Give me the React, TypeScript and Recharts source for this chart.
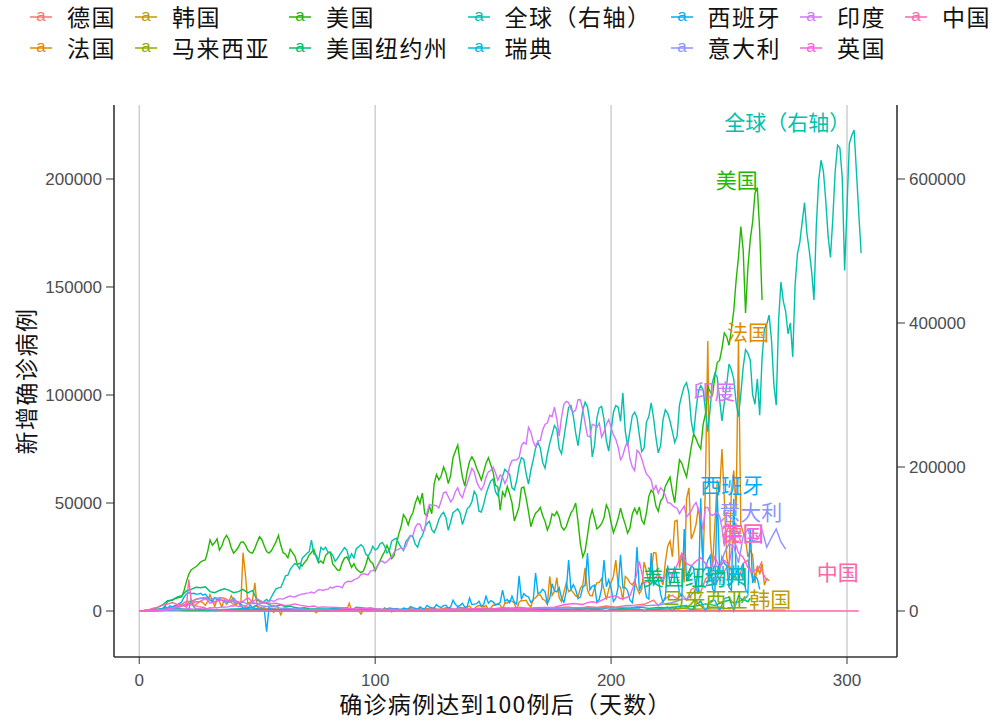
import React from "react";
import { LineChart, Line, XAxis, YAxis, CartesianGrid, ReferenceDot } from "recharts";

const FONT = '"Liberation Sans", "Noto Sans CJK SC", sans-serif';

const names = ["德国", "法国", "韩国", "马来西亚", "美国", "美国纽约州", "全球（右轴）", "瑞典", "西班牙", "意大利", "印度", "英国", "中国"];
const colors = ["#F8766D", "#E18A00", "#BE9C00", "#8CAB00", "#24B700", "#00BE70", "#00C1AB", "#00BBDA", "#00ACFC", "#8B93FF", "#D575FE", "#F962DD", "#FF65AC"];

// daily new cases in thousands; global series is read on the right axis
const globalStart = 3;
const globalK = [
  0.6, 0.9, 1.3, 1.8, 2.0, 2.1, 2.6, 2.8, 3.2, 3.9,
  3.7, 3.2, 3.9, 3.8, 3.7, 3.1, 2.6, 2.5, 2.1, 15.2,
  6.4, 2.7, 2.2, 2.1, 1.9, 1.8, 0.9, 1.0, 1.0, 0.8,
  1.1, 0.9, 1.2, 1.3, 1.8, 1.9, 2.4, 2.6, 3.0, 2.9,
  3.6, 3.9, 3.8, 4.5, 4.0, 4.5, 7.0, 7.9, 11.2, 10.5,
  13.9, 16.0, 13.2, 19.5, 25.6, 30.8, 32.2, 32.7, 40.3, 49.0,
  49.8, 58.0, 62.4, 66.2, 63.7, 58.4, 72.8, 76.4, 79.9, 82.1,
  98.3, 79.0, 77.4, 70.1, 88.2, 85.0, 88.6, 81.7, 82.1, 77.3,
  69.3, 72.8, 78.4, 83.2, 88.0, 84.7, 71.9, 79.5, 73.8, 86.5,
  89.3, 92.1, 88.7, 79.0, 76.2, 81.3, 90.0, 84.8, 86.5, 93.0,
  95.2, 90.1, 80.5, 83.8, 96.9, 99.5, 101.0, 93.8, 88.0, 84.0,
  96.5, 100.6, 105.0, 103.2, 92.8, 88.5, 99.7, 104.3, 115.4, 121.7,
  124.5, 113.0, 108.9, 116.7, 127.0, 133.6, 137.0, 129.5, 112.0, 124.0,
  136.5, 139.3, 141.8, 136.2, 120.0, 130.5, 141.9, 145.0, 151.8, 166.2,
  160.4, 138.7, 137.5, 148.2, 162.4, 172.3, 180.4, 183.6, 165.7, 160.2,
  173.3, 187.2, 196.7, 193.4, 189.7, 171.0, 168.2, 181.6, 201.3, 213.0,
  210.5, 190.5, 176.3, 195.5, 209.9, 226.2, 234.0, 226.4, 206.4, 198.2,
  217.7, 232.8, 245.3, 257.4, 252.5, 225.6, 218.4, 240.3, 262.1, 282.9,
  285.4, 270.5, 247.0, 229.5, 254.3, 279.1, 290.0, 283.6, 262.8, 214.0,
  230.3, 268.2, 282.0, 284.1, 266.0, 236.5, 222.1, 249.9, 276.0, 285.3,
  283.0, 263.4, 303.0, 250.1, 229.0, 250.2, 271.3, 276.0, 268.5, 244.0,
  221.5, 226.3, 262.4, 270.0, 289.1, 268.3, 241.0, 219.7, 229.7, 265.0,
  279.4, 274.6, 263.5, 249.0, 234.0, 243.1, 286.3, 300.2, 312.0, 316.9,
  302.4, 263.3, 245.8, 279.5, 304.8, 313.1, 307.5, 279.0, 249.2, 281.0,
  318.0, 330.2, 324.5, 293.9, 264.0, 289.6, 314.5, 343.1, 335.0, 322.2,
  289.7, 270.0, 301.4, 338.5, 362.9, 358.0, 348.3, 300.4, 287.2, 322.4,
  272.0, 351.0, 392.1, 398.4, 411.0, 376.5, 314.8, 286.0, 402.8, 457.0,
  430.5, 416.3, 385.0, 400.2, 353.0, 452.4, 496.0, 512.1, 540.2, 567.3,
  525.0, 500.4, 472.0, 432.0, 535.0, 598.2, 626.1, 611.0, 570.2, 520.6,
  491.0, 545.8, 610.7, 647.0, 643.0, 601.4, 473.0, 560.0, 649.2, 660.5,
  668.0, 610.3, 552.0, 497.0,
];

const usStart = 5;
const usK = [
  0.05, 0.08, 0.1, 0.3, 0.6, 1.2, 2.5,
  4.3, 4.8, 5.2, 5.6, 6.0, 6.3, 6.5, 9.5, 13.6, 17.0,
  19.0, 19.8, 20.5, 21.4, 22.7, 23.3, 23.6, 27.5, 32.9, 30.5,
  31.7, 33.4, 28.2, 30.1, 33.3, 35.0, 33.1, 29.3, 26.8, 28.0,
  29.5, 31.8, 32.0, 30.6, 28.2, 27.1, 26.8, 29.0, 31.9, 34.4,
  33.0, 30.1, 27.5, 26.8, 27.9, 30.0, 32.1, 35.0, 30.4, 27.0,
  26.3, 24.6, 28.6, 26.9, 25.4, 21.6, 22.1, 20.8, 22.4, 23.6,
  25.9, 27.1, 28.6, 25.1, 22.3, 23.2, 22.1, 25.8, 26.9, 27.0,
  21.8, 20.4, 19.0, 18.9, 22.3, 24.5, 25.0, 22.9, 20.2, 21.9,
  19.5, 18.5, 17.8, 18.5, 21.3, 25.1, 22.9, 22.0, 18.6, 20.9,
  23.1, 25.5, 27.4, 30.4, 27.8, 24.3, 25.6, 31.1, 35.6, 39.1,
  44.6, 42.9, 39.9, 43.5, 45.5, 50.0, 52.9, 49.9, 54.6, 45.2,
  43.9, 48.5, 45.0, 58.9, 63.2, 60.7, 62.6, 66.7, 63.9, 59.0,
  62.8, 71.0, 74.0, 76.8, 68.9, 62.0, 57.8, 64.5, 69.2, 71.4,
  69.4, 66.1, 63.5, 60.6, 64.4, 68.4, 71.0, 67.7, 64.3, 58.2,
  57.4, 46.7, 55.1, 53.0, 57.7, 54.2, 50.0, 41.7, 44.8, 48.3,
  56.9, 57.4, 52.3, 46.0, 39.0, 42.7, 45.3, 46.3, 48.0, 44.2,
  41.5, 37.5, 40.2, 45.0, 44.1, 46.0, 43.5, 38.9, 37.5, 39.1,
  42.5, 45.4, 47.1, 50.0, 41.3, 31.0, 25.0, 27.9, 35.0, 42.8,
  46.8, 42.6, 38.0, 39.0, 40.5, 43.2, 49.1, 46.6, 41.0, 36.2,
  39.3, 42.8, 47.6, 43.5, 40.1, 36.0, 38.4, 44.9, 47.5, 45.0,
  48.2, 42.0, 40.3, 45.6, 53.1, 56.0, 54.6, 48.6, 46.2, 51.0,
  52.5, 57.8, 59.9, 62.0, 55.3, 50.1, 61.0, 70.0, 68.4, 65.0,
  62.0, 68.9, 76.0, 82.0, 79.8, 77.0, 75.0, 86.2, 91.3, 104.0,
  101.6, 100.0, 108.5, 115.0, 116.0, 121.5, 128.7, 127.0, 123.0, 130.2,
  139.0, 153.0, 163.7, 178.0, 167.0, 138.0, 159.0, 172.0, 180.0, 193.5,
  196.0, 176.0, 144.0,
];

const indiaK = [
  0.01, 0.02, 0.03, 0.05, 0.07, 0.08, 0.09, 0.08, 0.1, 0.15,
  0.2, 0.3, 0.4, 0.5, 0.6, 0.7, 0.5, 0.6, 0.9, 1.0,
  0.9, 1.1, 1.0, 0.8, 1.0, 1.1, 1.3, 1.5, 1.0, 1.2,
  1.5, 1.4, 1.6, 1.4, 1.7, 1.8, 1.9, 1.8, 2.0, 2.4,
  2.3, 2.5, 2.0, 2.4, 2.6, 2.4, 3.0, 3.4, 3.5, 3.6,
  3.0, 3.6, 3.8, 3.5, 4.2, 4.3, 4.9, 4.4, 5.0, 5.6,
  5.6, 5.5, 6.1, 6.6, 7.0, 6.6, 6.5, 7.1, 7.5, 7.9,
  8.0, 8.3, 8.4, 8.8, 8.2, 9.0, 9.9, 9.8, 9.5, 10.0,
  10.0, 11.1, 10.6, 11.3, 11.5, 11.3, 10.7, 12.9, 13.6, 13.8,
  13.6, 14.5, 14.9, 15.5, 16.9, 17.3, 17.0, 16.7, 18.5, 18.7,
  19.5, 20.9, 22.8, 23.1, 22.3, 22.8, 24.0, 25.2, 27.1, 28.2,
  28.6, 29.4, 28.5, 29.9, 32.7, 34.9, 35.0, 38.7, 40.4, 40.2,
  37.2, 37.1, 45.7, 49.3, 48.9, 49.0, 48.7, 47.7, 51.0, 54.7,
  55.1, 52.9, 50.5, 52.0, 55.2, 57.1, 54.0, 52.5, 56.3, 59.0,
  62.5, 66.0, 64.4, 60.0, 57.5, 56.0, 58.1, 62.0, 64.5, 65.0,
  66.7, 64.0, 60.5, 63.0, 62.0, 59.0, 61.5, 67.0, 69.6, 69.9,
  70.0, 71.0, 76.5, 78.0, 77.3, 85.0, 82.8, 78.5, 76.0, 78.8,
  79.0, 83.8, 86.4, 87.1, 90.6, 90.0, 94.4, 89.0, 81.0, 89.7,
  95.7, 97.0, 96.5, 93.3, 92.1, 93.0, 97.9, 97.7, 93.4, 86.9,
  81.0, 80.6, 86.5, 86.0, 85.0, 87.0, 80.5, 82.8, 86.5, 88.6,
  85.0, 81.5, 79.5, 75.8, 70.0, 72.0, 76.0, 78.5, 70.5, 66.7,
  65.0, 74.4, 73.3, 70.5, 66.7, 63.5, 62.2, 60.6, 55.8, 58.0,
  54.6, 57.0, 56.0, 53.4, 50.1, 50.0, 49.0, 48.0, 47.6, 45.0,
  46.9, 48.6, 43.5, 45.0, 46.3, 48.8, 50.2, 47.0, 44.0, 37.5,
  48.0, 47.9, 44.9, 44.3, 45.0, 45.6, 44.0, 38.6, 30.0, 45.5,
  46.0,
];

const franceK = [
  0.03, 0.1, 0.1, 0.2, 0.2, 0.3, 0.4, 0.5, 0.6, 0.8,
  0.9, 1.1, 1.0, 1.3, 1.6, 1.8, 2.0, 1.9, 2.4, 3.0,
  1.7, 3.8, 3.0, 2.4, 3.0, 3.9, 4.6, 3.8, 2.6, 4.4,
  7.5, 4.9, 2.1, 5.2, 4.3, 1.9, 5.1, 3.1, 4.3, 7.1,
  4.8, 2.7, 4.2, 1.9, 27.0, 17.0, 3.7, 4.0, 4.8, 13.0,
  2.0, 1.0, 1.2, 1.5, 0.6, 0.8, 0.3, -0.6, 0.5, 1.0,
  -1.8, 0.9, 0.5, 0.3, 0.6, 0.4, 0.3, 0.5, 0.6, 0.1,
  0.3, 0.5, 0.4, 0.4, 0.1, -0.8, 0.4, 0.3, 0.5, 0.4,
  0.6, 0.2, 0.4, 0.3, 0.8, 0.5, 0.4, 0.3, 0.7, 3.6,
  0.4, 0.5, 0.4, 0.2, -1.5, 0.5, 0.4, 0.6, 0.5, 0.4,
  0.5, 0.6, 0.8, 0.5, 1.5, 0.4, 0.6, -0.5, 0.8, 0.6,
  0.5, 0.7, 0.6, 0.9, 0.7, 1.0, 0.6, 0.8, 0.9, 1.1,
  0.5, 0.6, 1.2, 1.0, 0.9, 1.4, 0.7, 0.6, 1.0, 1.1,
  1.5, 1.4, 1.1, 0.7, 0.3, 1.7, 1.6, 1.5, 1.3, 1.8,
  2.3, 1.0, 1.0, 2.0, 2.5, 2.3, 2.0, 2.6, 0.5, 1.4,
  2.8, 2.7, 3.3, 2.8, 0.7, 3.8, 3.7, 4.8, 4.6, 3.6,
  0.5, 4.1, 4.9, 4.8, 5.0, 3.0, 1.9, 5.4, 6.1, 7.4,
  7.4, 5.5, 4.9, 3.1, 16.0, 7.2, 9.0, 15.5, 6.2, 4.2,
  8.6, 13.0, 9.0, 9.8, 8.5, 7.0, 6.5, 10.6, 12.0, 20.0,
  9.7, 7.2, 7.0, 10.6, 13.0, 13.2, 15.0, 10.0, 5.3, 10.0,
  13.2, 16.0, 23.6, 12.0, 11.0, 5.0, 16.0, 15.0, 13.0, 12.1,
  14.0, 10.5, 8.0, 10.0, 22.6, 18.7, 12.9, 17.0, 27.0, 26.9,
  16.1, 15.0, 12.0, 22.6, 30.0, 32.4, 25.1, 41.6, 42.0, 20.0,
  26.8, 13.2, 52.0, 57.0, 33.4, 36.0, 40.0, 48.0, 39.0, 23.0,
  58.0, 125.0, 35.4, 20.1, 40.0, 60.5, 55.0, 75.0, 52.0, 25.0,
  19.0, 56.0, 65.0, 47.0, 125.0, 40.0, 36.4, 33.0, 25.0, 28.0,
  26.0, 13.0, 21.0, 17.0, 22.0, 12.0, 15.0, 14.0,
];

const spainK = [
  0.02, 0.05, 0.05, 0.1, 0.1, 0.2, 0.4, 0.6, 0.6, 1.0,
  1.2, 2.0, 1.2, 2.4, 1.9, 2.5, 2.8, 3.5, 4.3, 6.4,
  7.9, 8.6, 8.0, 8.2, 7.9, 7.8, 8.2, 7.3, 7.8, 6.5,
  5.0, 4.3, 6.2, 5.1, 5.2, 5.0, 4.9, 4.3, 4.2, 4.6,
  6.0, 4.5, 4.0, 3.0, 1.3, 1.4, 0.7, 2.9, 1.5, 1.0,
  1.2, 0.6, 1.0, 0.5, -9.6, 1.6, 0.4, 0.5, 0.5, 0.4,
  0.3, 0.2, 0.5, 0.4, 0.3, 0.4, 0.5, 0.3, 0.4, 0.4,
  0.3, 0.2, 0.4, 0.3, 0.5, 0.2, 0.3, 0.4, 0.4, 0.3,
  0.2, 0.5, 0.3, 0.4, 0.5, 0.6, 0.3, 0.4, 0.3, 0.5,
  0.4, 0.3, 0.6, 0.5, 0.4, 0.3, 0.5, 0.7, 0.4, 0.5,
  0.6, 0.4, 0.8, 0.5, 0.6, 1.0, 0.7, 0.4, 0.9, 1.2,
  0.8, 0.6, 1.4, 1.1, 0.9, 2.0, 1.5, 1.2, 0.8, 1.9,
  1.2, 1.0, 2.6, 1.8, 1.5, 1.4, 3.0, 2.0, 1.6, 2.5,
  2.7, 1.3, 1.9, 5.0, 3.1, 2.0, 2.6, 3.6, 1.8, 2.0,
  6.0, 2.9, 3.2, 3.4, 4.5, 2.2, 3.0, 6.8, 3.6, 4.8,
  4.2, 3.0, 3.1, 4.0, 9.7, 4.5, 5.3, 3.8, 6.8, 4.0,
  3.2, 16.3, 5.4, 8.0, 7.0, 6.5, 4.0, 5.0, 17.6, 8.1,
  8.5, 10.0, 9.0, 3.5, 5.9, 12.6, 9.3, 8.9, 10.8, 6.0,
  4.0, 9.0, 23.6, 10.0, 12.2, 9.8, 5.7, 6.5, 11.0, 12.0,
  26.8, 9.8, 11.4, 12.0, 4.0, 5.5, 10.5, 23.6, 11.2, 14.4,
  10.7, 4.4, 6.0, 11.0, 26.0, 10.8, 10.9, 9.4, 5.0, 3.8,
  11.0, 29.6, 9.4, 12.7, 13.0, 6.4, 5.5, 26.8, 12.0, 13.3,
  15.0, 7.8, 4.0, 6.5, 21.0, 12.1, 16.9, 20.0, 15.5, 8.5,
  6.5, 37.9, 13.9, 16.9, 20.9, 19.9, 10.2, 8.0, 52.2, 18.4,
  19.8, 23.5, 25.6, 10.5, 8.1, 55.0, 18.7, 25.0, 22.0, 21.0,
  11.0, 9.5, 52.0, 17.4, 19.5, 19.5, 22.0, 10.0, 8.0, 38.3,
  13.0, 16.0, 15.0, 10.0,
];

// [day, thousands]
const germanyK = [
  [0, 0.05], [3, 0.2], [6, 0.4], [9, 0.9], [12, 1.2], [14, 1.6], [16, 2.8], [18, 3.1], [20, 4.5], [22, 4.4],
  [24, 5.5], [26, 5.9], [28, 6.3], [30, 5.5], [32, 3.9], [34, 6.2], [36, 5.9], [38, 4.8], [40, 3.0], [42, 3.7],
  [44, 2.5], [46, 1.8], [48, 1.5], [50, 2.3], [52, 1.4], [54, 1.1], [56, 1.3], [58, 0.9], [60, 0.7], [62, 1.2],
  [64, 0.8], [66, 0.6], [70, 0.7], [74, 0.5], [78, 0.4], [82, 0.6], [86, 0.3], [90, 0.4], [94, 0.6], [98, 1.5],
  [102, 0.5], [106, 0.4], [110, 0.4], [114, 0.5], [118, 0.3], [122, 0.6], [126, 0.7], [130, 0.8], [134, 0.6],
  [138, 1.0], [142, 1.1], [146, 1.4], [150, 1.0], [154, 1.5], [158, 1.4], [162, 1.6], [166, 0.8], [170, 1.5],
  [174, 1.2], [178, 1.6], [182, 1.9], [186, 1.0], [190, 2.0], [194, 1.6], [198, 2.3], [202, 1.8], [206, 2.5],
  [210, 2.7], [214, 3.1], [216, 4.0], [218, 5.0], [220, 2.5], [222, 4.5], [224, 6.6], [226, 7.3], [228, 5.6],
  [230, 7.8], [232, 5.0], [234, 10.0], [236, 11.2], [238, 8.7], [240, 14.7], [242, 16.8], [244, 12.0],
  [246, 15.4], [248, 18.5], [250, 21.5], [252, 16.0], [254, 14.0], [256, 22.0], [258, 23.5], [260, 15.0],
  [262, 18.4], [264, 23.0],
];

const koreaK = [
  [0, 0.1], [3, 0.3], [6, 0.5], [9, 0.9], [12, 0.5], [15, 0.4], [18, 0.2], [21, 0.1], [25, 0.1], [30, 0.1],
  [40, 0.05], [60, 0.02], [80, 0.05], [100, 0.04], [120, 0.05], [140, 0.04], [150, 0.1], [160, 0.3], [165, 0.4],
  [170, 0.3], [180, 0.2], [190, 0.1], [200, 0.1], [210, 0.1], [220, 0.1], [230, 0.1], [240, 0.1], [250, 0.1],
  [260, 0.2], [266, 0.3], [270, 0.4], [274, 0.4],
];

const malaysiaK = [
  [0, 0.1], [5, 0.1], [10, 0.2], [15, 0.15], [20, 0.1], [25, 0.1], [30, 0.05], [40, 0.05], [50, 0.03],
  [60, 0.02], [70, 0.02], [80, 0.01], [100, 0.01], [120, 0.02], [140, 0.02], [150, 0.1], [160, 0.05],
  [170, 0.02], [180, 0.02], [190, 0.05], [195, 0.2], [200, 0.3], [205, 0.2], [210, 0.6], [215, 0.4],
  [220, 0.8], [225, 0.9], [230, 1.2], [235, 0.8], [240, 1.0], [245, 1.0], [248, 1.3], [251, 1.0],
];

const nyK = [
  [0, 0.05], [2, 0.2], [4, 0.4], [6, 0.8], [8, 1.8], [10, 2.9], [12, 4.8], [14, 5.0], [16, 6.4], [18, 7.1],
  [20, 9.3], [22, 10.0], [24, 11.0], [26, 10.8], [28, 11.2], [30, 9.0], [32, 8.5], [34, 9.5], [36, 10.3],
  [38, 9.7], [40, 8.5], [42, 9.0], [44, 10.0], [46, 8.4], [48, 9.5], [50, 5.0], [52, 4.1], [54, 3.5],
  [56, 2.5], [58, 2.2], [60, 2.8], [62, 1.9], [64, 2.3], [66, 1.6], [68, 1.3], [70, 1.5], [72, 1.1],
  [74, 1.0], [76, 0.9], [80, 0.7], [84, 0.8], [88, 0.6], [92, 0.7], [96, 0.6], [100, 0.6], [104, 0.7],
  [108, 0.8], [112, 0.6], [116, 0.7], [120, 0.6], [124, 0.7], [128, 0.6], [132, 0.7], [136, 0.8], [140, 0.6],
  [144, 0.7], [148, 0.7], [152, 0.8], [156, 0.9], [160, 0.6], [164, 0.8], [168, 0.9], [172, 0.7], [176, 1.0],
  [180, 0.8], [184, 0.9], [188, 1.0], [192, 1.4], [196, 1.0], [200, 1.6], [204, 1.3], [208, 1.4], [212, 1.8],
  [216, 1.2], [220, 1.6], [224, 1.5], [228, 2.0], [232, 1.9], [236, 2.3], [240, 3.3], [244, 2.6], [248, 4.4],
  [250, 5.0], [252, 3.8], [254, 4.2], [256, 5.5], [258, 4.3], [259, 5.9],
];

const swedenK = [
  [0, 0.05], [4, 0.1], [8, 0.2], [12, 0.3], [16, 0.4], [20, 0.5], [24, 0.6], [28, 0.5], [32, 0.5], [36, 0.7],
  [40, 0.8], [44, 0.6], [48, 0.7], [52, 0.5], [56, 0.8], [60, 0.6], [64, 0.7], [68, 0.9], [72, 0.6], [76, 0.8],
  [80, 1.0], [84, 1.2], [88, 1.5], [90, 0.3], [92, 1.8], [96, 1.3], [100, 1.0], [104, 0.4], [106, 1.4],
  [110, 0.6], [114, 0.4], [118, 0.5], [122, 0.3], [126, 0.4], [130, 0.3], [134, 0.2], [138, 0.3], [142, 0.3],
  [146, 0.2], [150, 0.3], [154, 0.2], [158, 0.2], [162, 0.1], [166, 0.3], [170, 0.2], [174, 0.3], [178, 0.5],
  [182, 0.3], [186, 0.6], [190, 0.5], [194, 0.8], [198, 0.0], [200, 0.8], [204, 0.7], [208, 0.9], [212, 1.0],
  [214, 0.0], [216, 1.0], [220, 0.7], [224, 1.8], [226, 0.0], [228, 2.1], [232, 2.6], [234, 0.0], [236, 3.0],
  [238, 4.7], [240, 0.0], [242, 4.6], [244, 5.0], [246, 0.0], [248, 5.8], [250, 6.4], [252, 0.0], [254, 7.0],
  [256, 4.7], [258, 7.2],
];

const italyK = [
  [0, 0.08], [2, 0.1], [4, 0.2], [6, 0.2], [8, 0.6], [10, 0.6], [12, 0.8], [14, 1.5], [16, 1.5], [18, 2.3],
  [20, 3.5], [22, 3.5], [24, 5.3], [26, 5.9], [28, 5.6], [30, 5.2], [32, 6.2], [34, 5.9], [36, 4.1], [38, 4.8],
  [40, 4.3], [42, 3.8], [44, 4.1], [46, 3.2], [48, 3.8], [50, 3.5], [52, 2.3], [54, 2.1], [56, 2.2], [58, 1.9],
  [60, 1.2], [62, 1.4], [64, 1.1], [66, 0.8], [68, 0.9], [70, 0.7], [75, 0.6], [80, 0.5], [85, 0.4], [90, 0.3],
  [95, 0.3], [100, 0.2], [110, 0.2], [120, 0.2], [130, 0.3], [140, 0.3], [150, 0.4], [160, 0.6], [170, 1.1],
  [180, 1.4], [190, 1.6], [200, 1.5], [210, 1.9], [215, 2.5], [220, 2.8], [225, 3.7], [228, 4.5], [230, 5.7],
  [232, 5.4], [234, 7.3], [236, 10.0], [238, 11.7], [240, 10.9], [242, 16.1], [244, 21.3], [246, 19.6],
  [248, 26.8], [250, 31.1], [252, 29.9], [254, 22.3], [256, 34.5], [258, 37.8], [260, 32.6], [262, 33.0],
  [264, 37.5], [266, 29.5], [268, 34.0], [270, 38.0], [272, 32.0], [274, 28.6],
];

const ukK = [
  [0, 0.05], [2, 0.1], [4, 0.2], [6, 0.4], [8, 0.6], [10, 0.7], [12, 1.0], [14, 1.4], [16, 2.1], [18, 2.6],
  [20, 2.9], [22, 3.0], [24, 4.3], [26, 4.4], [28, 5.9], [30, 3.6], [32, 4.3], [34, 5.2], [36, 4.6], [38, 4.7],
  [40, 5.5], [42, 3.9], [44, 4.5], [46, 6.2], [48, 4.3], [50, 5.6], [52, 4.4], [54, 3.9], [56, 3.4], [58, 3.6],
  [60, 3.0], [62, 2.5], [64, 2.8], [66, 3.3], [68, 2.7], [70, 2.4], [72, 2.0], [74, 2.3], [76, 1.6], [78, 1.9],
  [80, 1.8], [84, 1.6], [88, 1.3], [92, 1.0], [96, 1.2], [100, 0.9], [104, 0.7], [108, 0.8], [112, 0.6],
  [116, 0.7], [120, 0.6], [124, 0.8], [128, 0.7], [132, 0.9], [136, 0.8], [140, 1.0], [144, 1.1], [148, 0.8],
  [152, 1.2], [156, 1.0], [160, 1.1], [164, 1.3], [168, 1.5], [172, 1.7], [176, 1.8], [180, 2.9], [184, 3.5],
  [188, 3.0], [190, 3.9], [192, 4.3], [194, 3.9], [196, 4.9], [198, 6.2], [200, 6.6], [202, 7.1], [204, 5.7],
  [206, 6.0], [208, 7.1], [210, 12.9], [212, 23.0], [214, 12.9], [216, 14.1], [218, 14.5], [220, 17.2],
  [222, 13.9], [224, 18.9], [226, 16.2], [228, 21.3], [230, 26.7], [232, 21.9], [234, 20.9], [236, 23.0],
  [238, 24.7], [240, 22.0], [242, 18.9], [244, 25.0], [246, 20.0], [248, 23.3], [250, 21.3], [252, 33.5],
  [254, 26.9], [256, 24.9], [258, 20.1], [260, 18.0], [263, 20.5], [266, 14.0],
];

const chinaK = [
  [0, 0.1], [2, 0.3], [4, 0.6], [6, 1.3], [8, 1.8], [10, 2.7], [12, 3.2], [14, 3.9], [16, 3.1], [18, 2.5],
  [20, 2.0], [21, 14.5], [22, 5.1], [23, 2.6], [25, 2.0], [27, 1.8], [29, 0.9], [31, 0.6], [33, 0.5],
  [35, 0.4], [37, 0.2], [39, 0.1], [45, 0.05], [60, 0.05], [80, 0.1], [81, 0.3], [90, 0.05], [120, 0.01],
  [150, 0.02], [170, 0.1], [200, 0.05], [240, 0.03], [270, 0.02], [300, 0.02], [305, 0.03],
];

// end-of-line label anchors (day, value in the series' own axis units)
const labelDays = [255.8, 258, 267.5, 240, 253.3, 235.7, 274.7, 248.4, 251.2, 259.2, 243.7, 255.8, 296.1];
const labelValues = [35700, 128700, 5100, 5100, 199100, 15300, 677800, 16500, 58300, 45400, 101400, 35700, 17600];

type Pt = { day: number; value: number };
const daily = (start: number, vals: number[]): Pt[] => vals.map((v, i) => ({ day: start + i, value: v * 1000 }));
const pairs = (list: number[][]): Pt[] => list.map(([d, v]) => ({ day: d, value: v * 1000 }));

const seriesData: Pt[][] = [
  pairs(germanyK),
  daily(0, franceK),
  pairs(koreaK),
  pairs(malaysiaK),
  daily(usStart, usK),
  pairs(nyK),
  daily(globalStart, globalK),
  pairs(swedenK),
  daily(0, spainK),
  pairs(italyK),
  daily(0, indiaK),
  pairs(ukK),
  pairs(chinaK),
];

const GLOBAL = 6;

function KeyGlyph({ color }: { color: string }) {
  return (
    <svg width={24} height={22} style={{ display: "block" }}>
      <line x1={1} x2={23} y1={12} y2={12} stroke={color} strokeWidth={1.5} />
      <text x={12} y={16} textAnchor="middle" fontSize={17} fill={color} fontFamily={FONT}>a</text>
    </svg>
  );
}

function TopLegend() {
  const cols: number[][] = [];
  for (let i = 0; i < names.length; i += 2) cols.push(i + 1 < names.length ? [i, i + 1] : [i]);
  return (
    <div style={{ position: "absolute", left: 29, top: 0, display: "flex", gap: 18 }}>
      {cols.map((c, ci) => (
        <div key={ci} style={{ display: "flex", flexDirection: "column" }}>
          {c.map((i) => (
            <div key={i} style={{ display: "flex", alignItems: "center", height: 31.5 }}>
              <KeyGlyph color={colors[i]} />
              <span
                style={{
                  marginLeft: 14,
                  fontSize: 23,
                  letterSpacing: 1.5,
                  color: "#111",
                  fontFamily: '"Noto Sans CJK SC", sans-serif',
                  whiteSpace: "nowrap",
                }}
              >
                {names[i]}
              </span>
            </div>
          ))}
        </div>
      ))}
    </div>
  );
}

export default function App() {
  const tick = { fill: "#4D4D4D", fontSize: 17, fontFamily: FONT };
  const axisLine = { stroke: "#333", strokeWidth: 1.5 };
  return (
    <div style={{ position: "absolute", left: 0, top: 0, width: 994, height: 720, background: "#fff", fontFamily: FONT }}>
      <TopLegend />
      <LineChart width={994} height={720} margin={{ top: 105, right: 27, bottom: 33, left: 40 }}>
        <CartesianGrid horizontal={false} yAxisId="left" stroke="#C8C8C8" strokeWidth={1.3} />
        <XAxis
          type="number"
          dataKey="day"
          domain={[-10.7, 321.2]}
          ticks={[0, 100, 200, 300]}
          allowDataOverflow
          tick={tick}
          tickSize={7}
          tickMargin={10}
          axisLine={axisLine}
          tickLine={{ stroke: "#333" }}
          height={30}
        />
        <YAxis
          yAxisId="left"
          type="number"
          domain={[-21296, 234259]}
          ticks={[0, 50000, 100000, 150000, 200000]}
          allowDataOverflow
          tick={tick}
          tickSize={8}
          tickMargin={4}
          axisLine={axisLine}
          tickLine={{ stroke: "#333" }}
          width={74}
        />
        <YAxis
          yAxisId="right"
          orientation="right"
          type="number"
          domain={[-63888, 702777]}
          ticks={[0, 200000, 400000, 600000]}
          allowDataOverflow
          tick={tick}
          tickSize={8}
          tickMargin={4}
          axisLine={axisLine}
          tickLine={{ stroke: "#333" }}
          width={70}
        />
        {seriesData.map((d, i) => (
          <Line
            key={names[i]}
            name={names[i]}
            yAxisId={i === GLOBAL ? "right" : "left"}
            data={d}
            dataKey="value"
            type="linear"
            stroke={colors[i]}
            strokeWidth={1.4}
            dot={false}
            activeDot={false}
            isAnimationActive={false}
          />
        ))}
        {names.map((n, i) => (
          <ReferenceDot
            key={"lab-" + n}
            yAxisId={i === GLOBAL ? "right" : "left"}
            x={labelDays[i]}
            y={labelValues[i]}
            r={0}
            fill="none"
            stroke="none"
            ifOverflow="visible"
            label={{ value: n, position: "center", fill: colors[i], fontSize: 21, fontFamily: '"Noto Sans CJK SC", sans-serif' }}
          />
        ))}
      </LineChart>
      <div
        style={{
          position: "absolute",
          left: 114,
          width: 783,
          top: 688,
          textAlign: "center",
          fontSize: 23,
          letterSpacing: 1.2,
          color: "#111",
          fontFamily: '"Noto Sans CJK SC", sans-serif',
          lineHeight: "30px",
        }}
      >
        确诊病例达到100例后（天数）
      </div>
      <div
        style={{
          position: "absolute",
          left: 25,
          top: 381,
          transform: "translate(-50%, -50%) rotate(-90deg)",
          fontSize: 23,
          letterSpacing: 1.5,
          color: "#111",
          fontFamily: '"Noto Sans CJK SC", sans-serif',
          whiteSpace: "nowrap",
          lineHeight: "30px",
        }}
      >
        新增确诊病例
      </div>
    </div>
  );
}
